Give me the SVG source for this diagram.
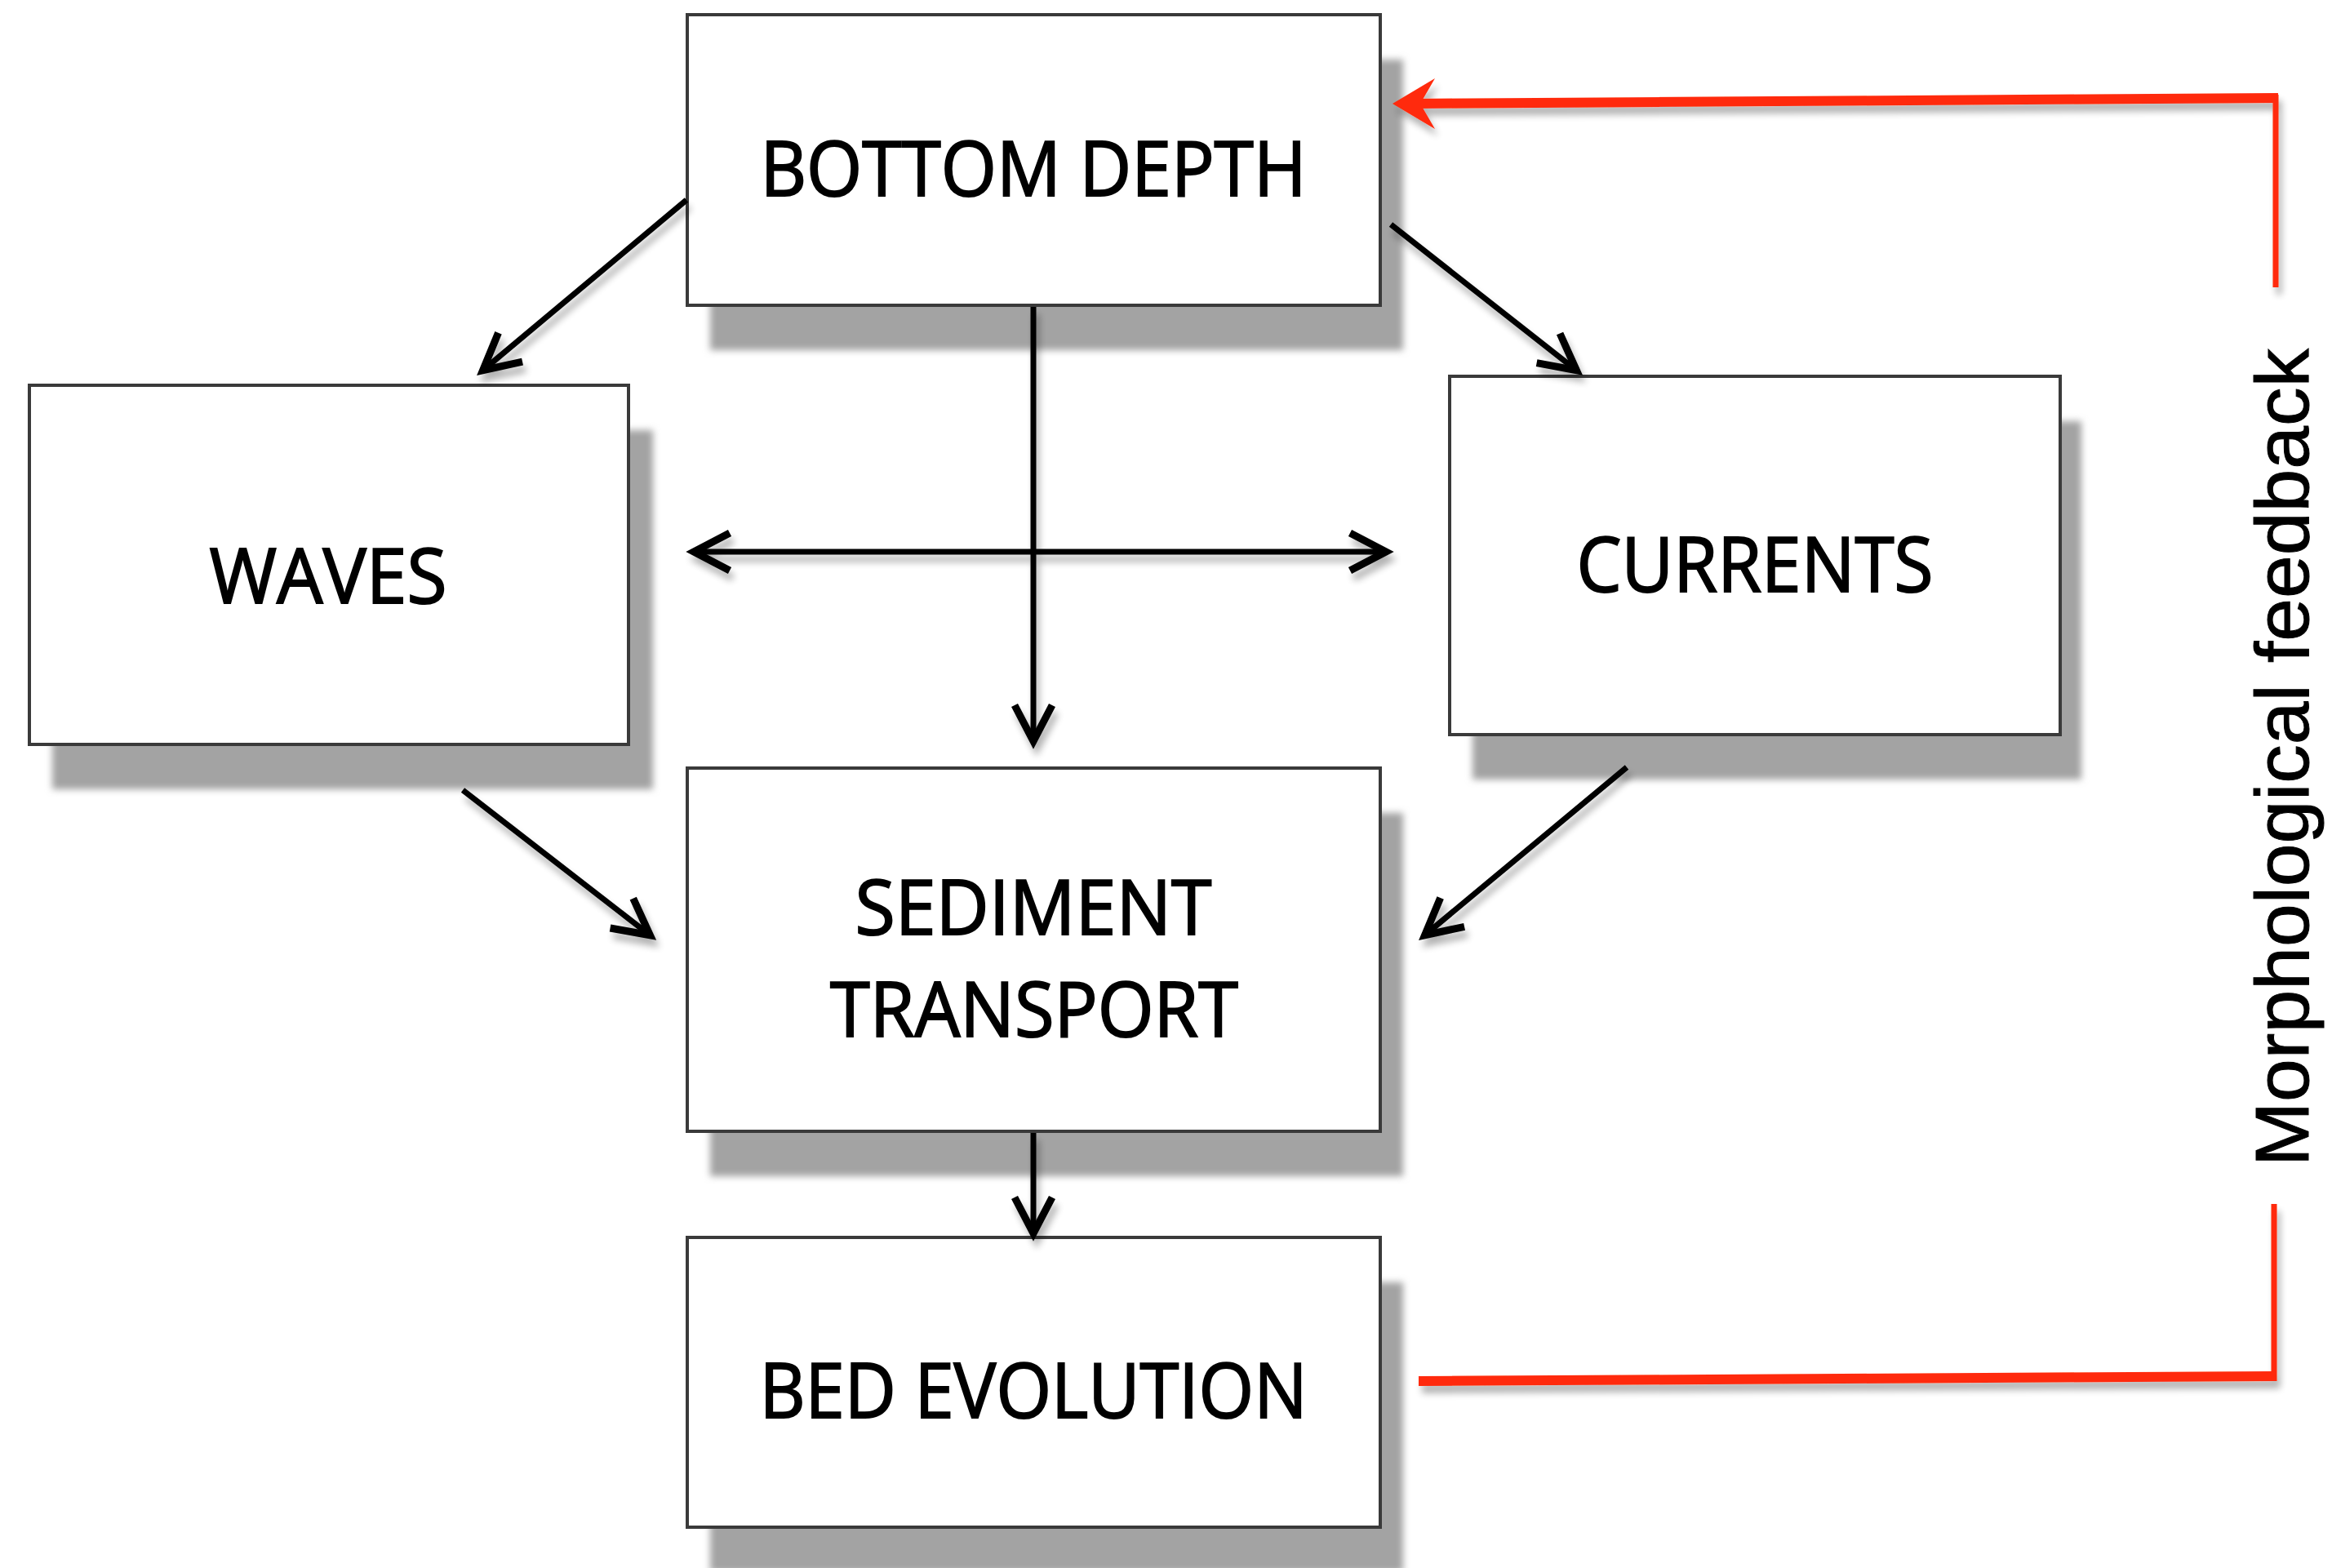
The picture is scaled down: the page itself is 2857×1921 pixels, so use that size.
<svg xmlns="http://www.w3.org/2000/svg" width="2857" height="1921" viewBox="0 0 2857 1921">
<style>
.box{fill:#ffffff;stroke:#3a3a3a;stroke-width:4}
.shadow{fill:#a3a3a3}
.lbl{font-family:"Open Sans","Noto Sans",sans-serif;font-size:94px;fill:#000;stroke:#000;stroke-width:2;text-anchor:middle}
.side{font-family:"Liberation Sans","Arial",sans-serif;font-size:92px;fill:#000;stroke:#000;stroke-width:1;text-anchor:middle}
.conn{stroke:#000;stroke-width:7;fill:none}
.fb{stroke:#ff2a0a;fill:none;stroke-linecap:butt}
</style>
<defs>
<filter id="blur" x="-10%" y="-10%" width="120%" height="120%">
<feGaussianBlur stdDeviation="4"/>
</filter>
<filter id="lineShadow" x="-10%" y="-50%" width="120%" height="200%">
<feGaussianBlur in="SourceAlpha" stdDeviation="4"/>
<feOffset dx="4" dy="9" result="o"/>
<feComponentTransfer><feFuncA type="linear" slope="0.3"/></feComponentTransfer>
<feMerge><feMergeNode/><feMergeNode in="SourceGraphic"/></feMerge>
</filter>
<marker id="ah" markerUnits="userSpaceOnUse" markerWidth="80" markerHeight="80" viewBox="-65 -40 80 80" refX="0" refY="0" orient="auto-start-reverse">
<path d="M -46 -23 L -2 0 L -46 23" fill="none" stroke="#000" stroke-width="9" stroke-linejoin="miter" stroke-miterlimit="10"/>
</marker>
</defs>
<rect width="2857" height="1921" fill="#ffffff"/>

<g id="bottom-depth">
<rect class="shadow" x="870" y="73" width="849" height="356" filter="url(#blur)"/>
<rect class="box" x="842" y="18" width="849" height="356"/>
<text class="lbl" x="1266" y="240" textLength="669" lengthAdjust="spacingAndGlyphs">BOTTOM DEPTH</text>
</g>

<g id="waves">
<rect class="shadow" x="64" y="527" width="736" height="440" filter="url(#blur)"/>
<rect class="box" x="36" y="472" width="734" height="440"/>
<text class="lbl" x="402" y="739" textLength="291" lengthAdjust="spacingAndGlyphs">WAVES</text>
</g>

<g id="currents">
<rect class="shadow" x="1804" y="516" width="746" height="439" filter="url(#blur)"/>
<rect class="box" x="1776" y="461" width="748" height="439"/>
<text class="lbl" x="2150" y="725" textLength="437" lengthAdjust="spacingAndGlyphs">CURRENTS</text>
</g>

<g id="sediment-transport">
<rect class="shadow" x="870" y="996" width="849" height="445" filter="url(#blur)"/>
<rect class="box" x="842" y="941" width="849" height="445"/>
<text class="lbl" x="1266" y="1145" textLength="437" lengthAdjust="spacingAndGlyphs">SEDIMENT</text>
<text class="lbl" x="1267" y="1270" textLength="500" lengthAdjust="spacingAndGlyphs">TRANSPORT</text>
</g>

<g id="bed-evolution">
<rect class="shadow" x="870" y="1571" width="849" height="355" filter="url(#blur)"/>
<rect class="box" x="842" y="1516" width="849" height="355"/>
<text class="lbl" x="1266" y="1737" textLength="671" lengthAdjust="spacingAndGlyphs">BED EVOLUTION</text>
</g>

<g id="connectors">
<g filter="url(#lineShadow)">
<line class="conn" x1="841" y1="245" x2="590" y2="455" marker-end="url(#ah)"/>
<line class="conn" x1="1704" y1="275" x2="1933" y2="455" marker-end="url(#ah)"/>
<line class="conn" x1="1266" y1="376" x2="1266" y2="910" marker-end="url(#ah)"/>
<line class="conn" x1="848" y1="676" x2="1700" y2="676" marker-start="url(#ah)" marker-end="url(#ah)"/>
<line class="conn" x1="567" y1="968" x2="798" y2="1147" marker-end="url(#ah)"/>
<line class="conn" x1="1993" y1="940" x2="1744" y2="1147" marker-end="url(#ah)"/>
<line class="conn" x1="1266" y1="1388" x2="1266" y2="1513" marker-end="url(#ah)"/>
<path class="fb" d="M 1738 1692 L 2786 1686" stroke-width="12"/>
<path class="fb" d="M 2786 1692 L 2786 1475" stroke-width="7"/>
<path class="fb" d="M 2788 352 L 2788 116" stroke-width="7"/>
<path class="fb" d="M 2791 120 L 1730 127" stroke-width="12"/>
<path d="M 1706 127 L 1758 96 L 1740 127 L 1758 158 Z" fill="#ff2a0a"/>
</g>
</g>

<g id="feedback-label">
<text class="side" transform="translate(2828,928) rotate(-90)" x="0" y="0" textLength="1002" lengthAdjust="spacingAndGlyphs">Morphological feedback</text>
</g>
</svg>
